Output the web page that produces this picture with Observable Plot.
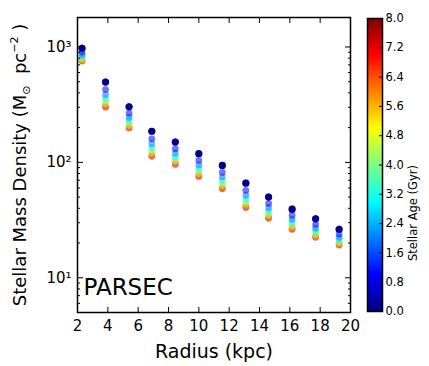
<!DOCTYPE html>
<html><head><meta charset="utf-8">
<script src="https://cdn.jsdelivr.net/npm/d3@7"></script>
<script src="https://cdn.jsdelivr.net/npm/@observablehq/plot@0.6"></script>
<style>
body{margin:0;background:#fff;}
#wrap{position:relative;width:429px;height:366px;font-family:"DejaVu Sans",sans-serif;}
#wrap svg{position:absolute;top:0;overflow:visible;}
</style></head><body><div id="wrap"></div>
<script>
const radius = [2.3, 3.85, 5.4, 6.9, 8.45, 10.0, 11.55, 13.1, 14.6, 16.15, 17.7, 19.25];
const ages = [0.1, 1.0, 2.0, 3.0, 4.0, 5.2, 6.2, 7.5];
const age0 = [975, 496, 303, 186, 150, 119, 94, 66, 50, 39.3, 32.4, 26.3];
const age1 = [904, 427, 267, 160, 131, 104, 81.7, 57.1, 44, 34.8, 29, 23.9];
const age2 = [859, 386, 245, 145, 120, 95, 74.5, 51.8, 40.5, 32.1, 26.9, 22.4];
const age3 = [828, 359, 230, 135, 112, 88.5, 69.5, 48.2, 38, 30.3, 25.5, 21.4];
const age4 = [800, 337, 217, 126, 106, 83.5, 65.3, 45.2, 36, 28.7, 24.3, 20.6];
const age5 = [782, 321, 209, 120, 102, 80, 62.7, 43.3, 34.7, 27.7, 23.5, 20];
const age6 = [769, 310, 203, 116, 99, 77.6, 60.7, 41.9, 33.6, 26.9, 22.9, 19.5];
const age7 = [756, 301, 198, 113, 96, 75.5, 59, 40.6, 32.8, 26.3, 22.4, 19.2];
const youngErr = [60, 30, 18, 11, 9, 7, 5.5, 4, 3, 2.4, 2, 1.6];
const xTicks = [2, 4, 6, 8, 10, 12, 14, 16, 18, 20];
const yTicks = [10, 100, 1000];
const yTickLabels = ["10¹", "10²", "10³"];
const ageTicks = [0, 0.8, 1.6, 2.4, 3.2, 4.0, 4.8, 5.6, 6.4, 7.2, 8.0];

const series = [age0, age1, age2, age3, age4, age5, age6, age7];
const rows = [];
series.forEach((s, k) => s.forEach((v, i) => rows.push({r: radius[i], d: v, age: ages[k]})));
rows.reverse(); // older drawn first, youngest on top
const young = age0.map((v, i) => ({r: radius[i], d: v, e: youngErr[i], age: ages[0]}));

function jet(t) {
  const c = (x) => Math.max(0, Math.min(1, x));
  const r = c(Math.min(4 * t - 1.5, -4 * t + 4.5));
  const g = c(Math.min(4 * t - 0.5, -4 * t + 3.5));
  const b = c(Math.min(4 * t + 0.5, -4 * t + 2.5));
  return `rgb(${Math.round(r * 255)},${Math.round(g * 255)},${Math.round(b * 255)})`;
}

const minor = [];
[1, 10, 100, 1000].forEach(p => { for (let m = 2; m < 10; m++) { const v = m * p; if (v >= 5 && v <= 1800) minor.push(v); } });

const font = "DejaVu Sans, sans-serif";
const colorScale = {type: "linear", domain: [0, 8], interpolate: jet};

const main = Plot.plot({
  width: 360, height: 366,
  marginLeft: 77, marginRight: 10, marginTop: 17, marginBottom: 54,
  style: {fontFamily: font, background: "transparent", color: "#000"},
  x: {domain: [2, 20], label: null},
  y: {type: "log", domain: [5, 1800], label: null},
  color: colorScale,
  marks: [
    Plot.dot(rows, {x: "r", y: "d", fill: "age", r: 3.4, fillOpacity: 0.55}),
    Plot.ruleX(young, {x: "r", y1: d => d.d - d.e, y2: d => d.d + d.e, stroke: "age", strokeWidth: 1.2}),
    Plot.dot(young, {x: "r", y: "d", fill: "age", r: 3.6}),
    Plot.axisX({ticks: xTicks, tickSize: -5, tickPadding: 13, fontSize: 15, tickFormat: d => String(d)}),
    Plot.axisX({anchor: "top", ticks: xTicks, tickSize: -5, tickFormat: () => ""}),
    Plot.axisY({ticks: yTicks, tickSize: -6, tickPadding: 12, fontSize: 15, tickFormat: d => yTickLabels[yTicks.indexOf(d)]}),
    Plot.axisY({ticks: minor, tickSize: -3, tickFormat: () => ""}),
    Plot.axisY({anchor: "right", ticks: yTicks, tickSize: -6, tickFormat: () => ""}),
    Plot.axisY({anchor: "right", ticks: minor, tickSize: -3, tickFormat: () => ""}),
    Plot.frame({stroke: "#000", strokeWidth: 1.5}),
    Plot.text(["PARSEC"], {frameAnchor: "bottom-left", dx: 6, dy: -18, fontSize: 23, fill: "#000", textAnchor: "start"}),
    Plot.text(["Radius (kpc)"], {frameAnchor: "bottom", dy: 45, fontSize: 19, fill: "#000"}),
    Plot.text(["Stellar Mass Density (M☉ pc⁻²)"], {frameAnchor: "left", dx: -57, rotate: -90, fontSize: 18, fill: "#000", textAnchor: "middle"})
  ]
});
main.style.left = "0px";

// rebuild the y label with matplotlib-like sub/superscripts
d3.select(main).selectAll("text").filter(function () { return this.textContent.startsWith("Stellar Mass"); })
  .each(function () {
    const t = d3.select(this);
    t.text(null);
    t.append("tspan").text("Stellar Mass Density (M");
    t.append("tspan").attr("font-size", 11).attr("dy", 4).text("⊙");
    t.append("tspan").attr("dy", -4).text("  pc");
    t.append("tspan").attr("font-size", 11).attr("dy", -8).text("−2");
    t.append("tspan").attr("dy", 8).text(" )");
  });

const step = 0.02;
const bins = d3.range(0, 8, step);
const cbar = Plot.plot({
  width: 79, height: 366,
  marginLeft: 17, marginRight: 47, marginTop: 18, marginBottom: 55,
  style: {fontFamily: font, background: "transparent", color: "#000"},
  x: {domain: [0, 1], axis: null},
  y: {domain: [0, 8], label: null, axis: null},
  color: colorScale,
  marks: [
    Plot.rect(bins, {x1: 0, x2: 1, y1: d => d, y2: d => Math.min(8, d + step * 2), fill: d => d + step / 2, shapeRendering: "crispEdges"}),
    Plot.frame({stroke: "#000", strokeWidth: 1.5}),
    Plot.axisY({anchor: "right", ticks: ageTicks, tickSize: -4, tickPadding: 7, fontSize: 11.5, tickFormat: d => d.toFixed(1)}),
    Plot.text(["Stellar Age (Gyr)"], {frameAnchor: "right", dx: 31, rotate: -90, fontSize: 11.5, fill: "#000"})
  ]
});
cbar.style.left = "350px";

document.getElementById("wrap").append(main, cbar);
</script></body></html>
